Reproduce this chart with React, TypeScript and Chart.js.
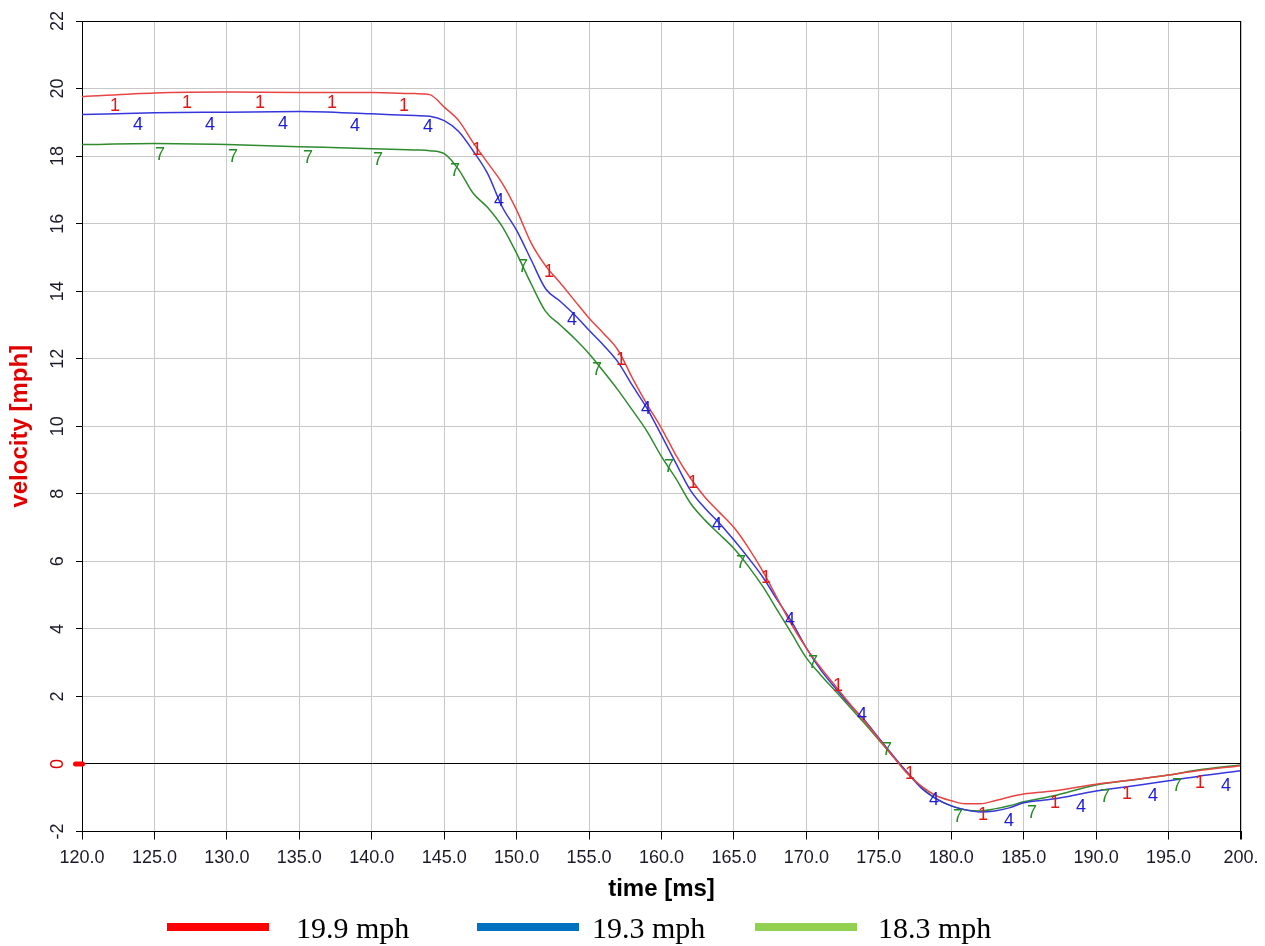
import React, { useEffect, useRef } from "react";
import { Chart, registerables } from "chart.js";
Chart.register(...registerables);

// ---- data ----
const TIMES = [120, 125, 130, 135, 140, 143, 144, 145, 146, 147, 148, 149, 150, 151, 152, 153, 154, 155, 156, 157, 158, 159, 160, 161, 162, 163, 164, 165, 166, 167, 168, 169, 170, 171, 172, 173, 174, 175, 176, 177, 178, 179, 180, 181, 182, 183, 184, 185, 187, 190, 192, 195, 197, 200];

const RED_V = [19.76, 19.87, 19.9, 19.88, 19.88, 19.85, 19.82, 19.45, 19.05, 18.4, 17.8, 17.2, 16.4, 15.43, 14.75, 14.25, 13.72, 13.2, 12.75, 12.25, 11.42, 10.65, 9.94, 9.14, 8.46, 7.9, 7.45, 7.0, 6.4, 5.7, 4.9, 4.11, 3.43, 2.84, 2.31, 1.78, 1.27, 0.74, 0.21, -0.3, -0.68, -0.95, -1.09, -1.18, -1.18, -1.09, -0.98, -0.89, -0.8, -0.6, -0.5, -0.33, -0.2, -0.05];

const BLUE_V = [19.23, 19.28, 19.3, 19.32, 19.25, 19.2, 19.18, 19.05, 18.73, 18.15, 17.48, 16.5, 15.8, 14.93, 14.07, 13.7, 13.3, 12.84, 12.4, 11.9, 11.2, 10.53, 9.73, 8.9, 8.1, 7.57, 7.13, 6.63, 6.1, 5.53, 4.85, 4.2, 3.43, 2.78, 2.25, 1.75, 1.3, 0.77, 0.24, -0.27, -0.74, -1.04, -1.24, -1.36, -1.42, -1.39, -1.3, -1.15, -1.04, -0.8, -0.68, -0.5, -0.37, -0.2];

const GREEN_V = [18.34, 18.37, 18.34, 18.28, 18.22, 18.18, 18.16, 18.07, 17.6, 16.9, 16.48, 15.92, 15.12, 14.22, 13.4, 13.0, 12.6, 12.15, 11.62, 11.07, 10.47, 9.85, 9.1, 8.45, 7.72, 7.22, 6.8, 6.38, 5.85, 5.25, 4.55, 3.85, 3.14, 2.63, 2.16, 1.69, 1.21, 0.71, 0.21, -0.27, -0.71, -1.04, -1.24, -1.36, -1.39, -1.33, -1.24, -1.12, -0.95, -0.62, -0.5, -0.33, -0.18, -0.03];

// curve-label markers ("1", "4", "7") in data units
const RED_MARK_T = [122.28, 127.25, 132.29, 137.26, 142.23, 147.27, 152.24, 157.2, 162.17, 167.21, 172.18, 177.15, 182.19, 187.16, 192.13, 197.17];
const RED_MARK_V = [19.47, 19.56, 19.56, 19.56, 19.47, 18.17, 14.56, 11.95, 8.31, 5.5, 2.31, -0.3, -1.51, -1.15, -0.9, -0.55];
const BLUE_MARK_T = [123.87, 128.84, 133.87, 138.84, 143.88, 148.78, 153.82, 158.93, 163.83, 168.87, 173.84, 178.81, 183.99, 188.96, 193.93, 198.97];
const BLUE_MARK_V = [18.93, 18.93, 18.96, 18.88, 18.85, 16.66, 13.14, 10.5, 7.07, 4.26, 1.45, -1.07, -1.7, -1.28, -0.95, -0.64];
const GREEN_MARK_T = [125.38, 130.42, 135.6, 140.43, 145.75, 150.44, 155.55, 160.52, 165.49, 170.46, 175.56, 180.46, 185.57, 190.61, 195.58];
const GREEN_MARK_V = [18.02, 17.96, 17.93, 17.87, 17.57, 14.7, 11.66, 8.79, 5.95, 2.99, 0.42, -1.57, -1.45, -0.98, -0.65];

const SERIES_NAMES = ["19.9 mph", "19.3 mph", "18.3 mph"];
const SERIES_TAGS = ["1", "4", "7"];
const LINE_COLORS = ["#e84444", "#3636dc", "#2e8b2e"];
const TAG_COLORS = ["#e01818", "#1c1cd8", "#258a25"];
const LEGEND_COLORS = ["#ff0000", "#0070c0", "#92d050"];

const X_MIN = 120, X_MAX = 200, X_STEP = 5;
const Y_MIN = -2, Y_MAX = 22, Y_STEP = 2;

const MARKS = [
  [RED_MARK_T, RED_MARK_V],
  [BLUE_MARK_T, BLUE_MARK_V],
  [GREEN_MARK_T, GREEN_MARK_V],
];

const SANS = '"Liberation Sans", Arial, sans-serif';

const overlayPlugin = {
  id: "overlay",
  afterDatasetsDraw(chart: any) {
    const { ctx, chartArea, scales } = chart;
    const x = scales.x, y = scales.y;
    ctx.save();
    // top & right frame
    ctx.strokeStyle = "#000";
    ctx.lineWidth = 1;
    ctx.beginPath();
    ctx.moveTo(chartArea.left, Math.round(chartArea.top) + 0.5);
    ctx.lineTo(chartArea.right, Math.round(chartArea.top) + 0.5);
    ctx.moveTo(Math.round(chartArea.right) - 0.5, chartArea.top);
    ctx.lineTo(Math.round(chartArea.right) - 0.5, chartArea.bottom + 8);
    ctx.stroke();
    // curve tags
    ctx.font = "18px " + SANS;
    ctx.textAlign = "center";
    ctx.textBaseline = "middle";
    MARKS.forEach(([ts, vs], si) => {
      ctx.fillStyle = TAG_COLORS[si];
      ts.forEach((t, i) => {
        ctx.fillText(SERIES_TAGS[si], x.getPixelForValue(t), y.getPixelForValue(vs[i]));
      });
    });
    // red zero marker on the y axis
    const y0 = y.getPixelForValue(0);
    ctx.fillStyle = "#ff0000";
    ctx.beginPath();
    ctx.roundRect(chartArea.left - 9, y0 - 2.5, 12, 5, 2.5);
    ctx.fill();
    ctx.restore();
  },
  afterDraw(chart: any) {
    const { ctx } = chart;
    ctx.save();
    const barX = [167, 477, 755];
    const textX = [296, 592, 878];
    ctx.font = '30px "Liberation Serif", "Times New Roman", serif';
    ctx.textAlign = "left";
    ctx.textBaseline = "alphabetic";
    SERIES_NAMES.forEach((name, i) => {
      ctx.fillStyle = LEGEND_COLORS[i];
      ctx.fillRect(barX[i], 923, 102, 8);
      ctx.fillStyle = "#000";
      ctx.fillText(name, textX[i], 938);
    });
    ctx.restore();
  },
};

export default function App() {
  const ref = useRef<HTMLCanvasElement | null>(null);
  useEffect(() => {
    if (!ref.current) return;
    const seriesVals = [RED_V, BLUE_V, GREEN_V];
    const chart = new Chart(ref.current, {
      type: "line",
      data: {
        datasets: seriesVals.map((vals, si) => ({
          label: SERIES_NAMES[si],
          data: TIMES.map((t, i) => ({ x: t, y: vals[i] })),
          borderColor: LINE_COLORS[si],
          borderWidth: 1.5,
          pointRadius: 0,
          fill: false,
          cubicInterpolationMode: "monotone" as const,
        })),
      },
      options: {
        responsive: false,
        devicePixelRatio: 1,
        animation: false,
        layout: { padding: { top: 21, right: 24, left: 0, bottom: 0 } },
        plugins: { legend: { display: false }, tooltip: { enabled: false } },
        scales: {
          x: {
            type: "linear",
            min: X_MIN,
            max: X_MAX,
            afterFit: (s: any) => {
              s.height = 114.5;
              s.paddingLeft = 0;
              s.paddingRight = 0;
            },
            ticks: {
              stepSize: X_STEP,
              padding: 8,
              color: "#1a1a28",
              font: { family: SANS, size: 18 },
              maxRotation: 0,
              callback: (v: any) => (Number(v) === X_MAX ? "200." : Number(v).toFixed(1)),
            },
            grid: { color: "#c8c8c8", lineWidth: 1, tickLength: 8, tickColor: "#000" },
            border: { color: "#000", width: 1 },
            title: {
              display: true,
              text: "time [ms]",
              color: "#000",
              font: { family: SANS, size: 24, weight: "bold" },
              padding: { top: 0, bottom: 42 },
            },
          },
          y: {
            type: "linear",
            min: Y_MIN,
            max: Y_MAX,
            afterFit: (s: any) => { s.width = 82; },
            ticks: {
              stepSize: Y_STEP,
              minRotation: 90,
              maxRotation: 90,
              crossAlign: "center",
              padding: 8,
              color: (c: any) => (c.tick && c.tick.value === 0 ? "#e00000" : "#1a1a28"),
              font: { family: SANS, size: 18 },
            },
            grid: {
              color: (c: any) => (c.tick && c.tick.value === 0 ? "#000" : "#c8c8c8"),
              lineWidth: 1,
              tickLength: 6,
              tickColor: "#000",
            },
            border: { color: "#000", width: 1 },
            title: {
              display: true,
              text: "velocity [mph]",
              color: "#e00000",
              font: { family: SANS, size: 24, weight: "bold" },
              padding: { top: 6, bottom: 0 },
            },
          },
        },
      },
      plugins: [overlayPlugin],
    } as any);
    return () => chart.destroy();
  }, []);
  return (
    <div style={{ position: "absolute", left: 0, top: 0, width: 1265, height: 946, background: "#fff" }}>
      <canvas ref={ref} width={1265} height={946} style={{ display: "block", width: 1265, height: 946 }} />
    </div>
  );
}
